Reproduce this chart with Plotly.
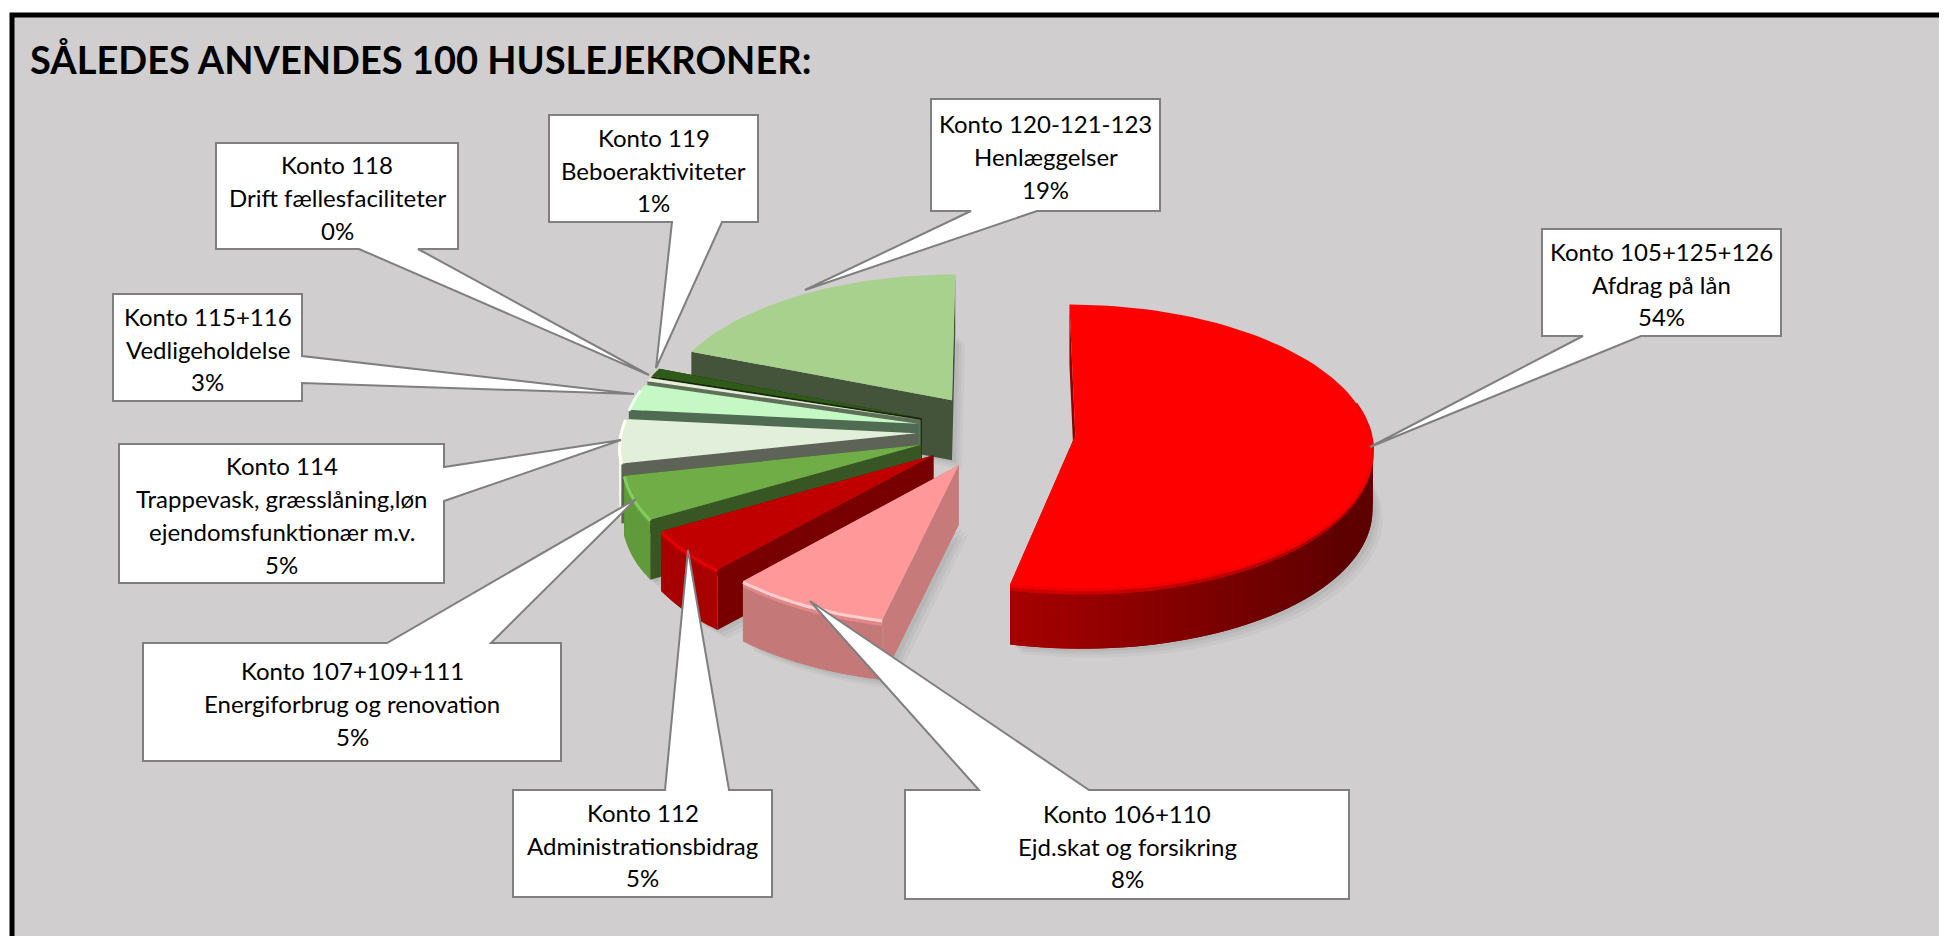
import math
import plotly.graph_objects as go

# ---- chart data ----
kontos = ["Konto 105+125+126", "Konto 106+110", "Konto 112", "Konto 107+109+111", "Konto 114",
          "Konto 115+116", "Konto 118", "Konto 119", "Konto 120-121-123"]
descriptions = [["Afdrag på lån"], ["Ejd.skat og forsikring"], ["Administrationsbidrag"],
                ["Energiforbrug og renovation"],
                ["Trappevask, græsslåning,løn", "ejendomsfunktionær m.v."],
                ["Vedligeholdelse"], ["Drift fællesfaciliteter"], ["Beboeraktiviteter"], ["Henlæggelser"]]
values = [53.6, 8.0, 5.0, 5.0, 5.0, 3.0, 0.4, 1.0, 19.0]
percent_labels = ["54%", "8%", "5%", "5%", "5%", "3%", "0%", "1%", "19%"]
title_text = "SÅLEDES ANVENDES 100 HUSLEJEKRONER:"

top_colors = ["#FF0000", "#FF9999", "#C00000", "#70AD47", "#E2EFDA", "#C6F8C6", "#E6EEDA", "#2F5A18", "#A9D18E"]
wall_colors = ["#8B0000", "#C67A7A", "#780000", "#375623", "#5E6358", "#4F6B52", "#5E7058", "#16260C", "#44543A"]
rim_left = ["#A80000", "#C47878", "#A80000", "#609A3A", "#F4F8EC", "#DFFFDF", "#E6EEDA", "#2F5A18", "#8DB873"]
rim_right = ["#5E0000", "#B26868", "#A80000", "#609A3A", "#F4F8EC", "#DFFFDF", "#E6EEDA", "#2F5A18", "#8DB873"]
edge_colors = ["#F00000", "#FFCFCF", "#E80000", "#82CC60", "#FFFFF2", "#EAFFEA", "#E6EEDA", "#2F5A18", "#A9D18E"]

BG = "#D0CECE"
# the page keeps an 8px margin, so the axes start at 8 and run in picture pixels
PAGE_MARGIN = 8
W, H = 1947, 936
# projection of the exploded, tilted pie into the pixel-scaled axes
CX, CY, RX, RY, PULL, PERSP, DEPTH = 996, 431, 295, 140.5, 0.27, 0.08, 60


def project(X, Y):
    f = 1 / (1 + PERSP * Y)
    return CX + RX * X * f, CY - RY * Y * f


def hex_mix(a, b, t):
    ca = [int(a[i:i + 2], 16) for i in (1, 3, 5)]
    cb = [int(b[i:i + 2], 16) for i in (1, 3, 5)]
    return "#%02X%02X%02X" % tuple(round(x + (y - x) * t) for x, y in zip(ca, cb))


fig = go.Figure()


def poly(xs, ys, color):
    fig.add_trace(go.Scatter(x=list(xs) + [xs[0]], y=list(ys) + [ys[0]], mode="lines", fill="toself",
                             fillcolor=color, line=dict(width=0), hoverinfo="skip", showlegend=False))


# slice geometry from the values
total = sum(values)
slices = []
a0 = 0.0
for i, v in enumerate(values):
    a1 = a0 + v / total * 360
    mid = math.radians((a0 + a1) / 2)
    ox, oy = PULL * math.sin(mid), PULL * math.cos(mid)
    n = max(3, int((a1 - a0) / 2))
    thetas = [math.radians(a0 + (a1 - a0) * k / n) for k in range(n + 1)]
    arc = [project(ox + math.sin(t), oy + math.cos(t)) for t in thetas]
    slices.append(dict(i=i, apex=project(ox, oy), arc=arc, thetas=thetas))
    a0 = a1

# soft ground shadow
for dx, dy, alpha in [(10, 9, .03), (7, 6, .035), (4, 3, .045)]:
    for s in slices:
        pts = [s["apex"]] + s["arc"]
        poly([p[0] + dx for p in pts], [p[1] + DEPTH + dy for p in pts], f"rgba(0,0,0,{alpha})")

# back to front
for s in reversed(slices):
    i, apex, arc, thetas = s["i"], s["apex"], s["arc"], s["thetas"]
    n = len(arc) - 1
    # hidden end wall
    edge = arc[-1]
    poly([apex[0], edge[0], edge[0], apex[0]],
         [apex[1], edge[1], edge[1] + DEPTH, apex[1] + DEPTH], wall_colors[i])
    # outer rim, only where it faces the viewer, shaded along the arc
    for k in range(n):
        tm = (thetas[k] + thetas[k + 1]) / 2
        if math.cos(tm) > 0.05:
            continue
        shade = min(1, max(0, (math.sin(tm) + 0.25) / 1.1))
        col = hex_mix(rim_left[i], rim_right[i], shade)
        p, q = arc[k], arc[min(k + 2, n)]
        poly([p[0], q[0], q[0], p[0]], [p[1], q[1], q[1] + DEPTH, p[1] + DEPTH], col)
        band = hex_mix(top_colors[i], col, 0.5)
        poly([p[0], q[0], q[0], p[0]], [p[1], q[1], q[1] + 6, p[1] + 6], band)
    # visible start wall
    edge = arc[0]
    poly([apex[0], edge[0], edge[0], apex[0]],
         [apex[1], edge[1], edge[1] + DEPTH, apex[1] + DEPTH], wall_colors[i])
    # top face
    pts = [apex] + arc
    poly([p[0] for p in pts], [p[1] for p in pts], top_colors[i])
    # bevel highlight on the front rim
    front = [p for p, t in zip(arc, thetas) if math.cos(t) < 0.25]
    if len(front) > 1:
        fig.add_trace(go.Scatter(x=[p[0] for p in front], y=[p[1] + 1 for p in front], mode="lines",
                                 line=dict(color=edge_colors[i], width=3), hoverinfo="skip", showlegend=False))

# callouts: box (x0, y0, x1, y1), tail base point 1, base point 2, tip
callouts = [
    ((1542, 229, 1781, 336), (1583, 336), (1641, 336), (1370, 447)),
    ((905, 790, 1349, 899), (979, 790), (1089, 790), (810, 601)),
    ((513, 790, 772, 897), (665, 790), (729, 790), (688, 550)),
    ((143, 643, 561, 761), (387, 643), (491, 643), (636, 499)),
    ((119, 444, 444, 583), (444, 467), (444, 501), (621, 440)),
    ((113, 294, 302, 401), (302, 356), (302, 383), (634, 394)),
    ((216, 143, 458, 249), (359, 249), (418, 249), (649, 375)),
    ((549, 115, 758, 222), (672, 222), (722, 222), (656, 368)),
    ((931, 99, 1160, 211), (971, 211), (1037, 211), (805, 290)),
]
shapes = []
annotations = []
LINE_H = 32.8
for idx, (box, b1, b2, tip) in enumerate(callouts):
    x0, y0, x1, y1 = box
    corners = [(x0, y0), (x1, y0), (x1, y1), (x0, y1)]
    # insert the tail on the side of the box where its base lies
    if b1[1] == y0:
        path = [corners[0], b1, tip, b2, corners[1], corners[2], corners[3]]
    elif b1[1] == y1:
        path = [corners[0], corners[1], corners[2], b2, tip, b1, corners[3]]
    else:
        path = [corners[0], corners[1], b1, tip, b2, corners[2], corners[3]]
    d = "M " + " L ".join(f"{p[0]},{p[1]}" for p in path) + " Z"
    shapes.append(dict(type="path", path=d, xref="x", yref="y", fillcolor="white",
                       line=dict(color="#7F7F7F", width=2), layer="above"))
    lines = [kontos[idx]] + descriptions[idx] + [percent_labels[idx]]
    yc = (y0 + y1) / 2 + 1.5
    for j, t in enumerate(lines):
        annotations.append(dict(x=(x0 + x1) / 2, y=yc + (j - (len(lines) - 1) / 2) * LINE_H, text=t,
                                xref="x", yref="y", showarrow=False, xanchor="center", yanchor="middle",
                                font=dict(family="Lato", size=24, color="black")))

annotations.append(dict(x=28, y=59, text=f"<b>{title_text}</b>", xref="x", yref="y", showarrow=False,
                        xanchor="left", yanchor="middle", font=dict(family="Lato", size=38, color="black")))

# frame of the picture: left and top edges are inside the window, the others run off it
shapes.insert(0, dict(type="rect", x0=12, y0=15, x1=W + 30, y1=H + 30, xref="x", yref="y",
                      fillcolor=BG, line=dict(color="black", width=5), layer="below"))

fig.update_layout(
    width=W - PAGE_MARGIN, height=H - PAGE_MARGIN, autosize=False,
    margin=dict(l=0, r=0, t=0, b=0, pad=0),
    paper_bgcolor="white", plot_bgcolor="white",
    xaxis=dict(range=[PAGE_MARGIN, W], visible=False, fixedrange=True),
    yaxis=dict(range=[H, PAGE_MARGIN], visible=False, fixedrange=True),
    shapes=shapes, annotations=annotations, showlegend=False,
)
fig.write_html("out.html")
